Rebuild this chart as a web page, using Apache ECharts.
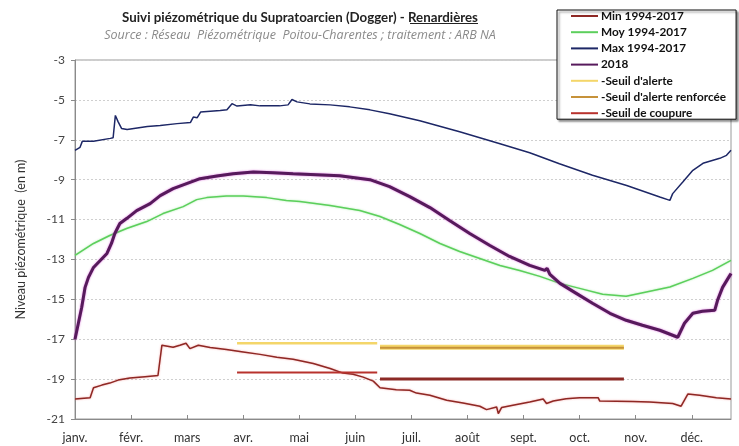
<!DOCTYPE html>
<html>
<head>
<meta charset="utf-8">
<script src="https://cdn.jsdelivr.net/npm/echarts@6/dist/echarts.min.js"></script>
<style>
html,body{margin:0;padding:0;background:#fff}
#main{width:739px;height:446px}
</style>
</head>
<body>
<div id="main"></div>
<script>
// abscisse = mois écoulés depuis le 1er janvier (0 = janv., 11 = déc.)
var months = ['janv.','févr.','mars','avr.','mai','juin','juil.','août','sept.','oct.','nov.','déc.'];

// Min 1994-2017
var minData = [[0,-20.0],[0.27,-19.93],[0.33,-19.43],[0.48,-19.3],[0.62,-19.2],[0.77,-19.05],[0.98,-18.95],
  [1.25,-18.88],[1.48,-18.82],[1.55,-17.3],[1.75,-17.4],[1.87,-17.3],[1.98,-17.2],[2.05,-17.47],[2.2,-17.3],
  [2.41,-17.42],[2.7,-17.52],[3.0,-17.64],[3.3,-17.76],[3.6,-17.9],[3.89,-18.0],[4.25,-18.22],[4.55,-18.47],
  [4.78,-18.7],[4.96,-18.76],[5.14,-18.9],[5.32,-19.1],[5.44,-19.43],[5.73,-19.53],[5.97,-19.56],[6.09,-19.7],
  [6.33,-19.81],[6.63,-20.06],[6.92,-20.2],[7.22,-20.36],[7.34,-20.53],[7.52,-20.4],[7.55,-20.73],[7.61,-20.42],
  [7.81,-20.31],[8.11,-20.15],[8.35,-20.0],[8.41,-20.22],[8.53,-20.1],[8.76,-19.98],[9.0,-19.93],[9.33,-19.93],
  [9.36,-20.1],[9.95,-20.12],[10.25,-20.15],[10.66,-20.22],[10.81,-20.36],[10.93,-19.75],[11.14,-19.81],
  [11.44,-19.93],[11.7,-20.0]];

// Moy 1994-2017
var moyData = [[0,-12.8],[0.33,-12.2],[0.62,-11.8],[0.92,-11.45],[1.28,-11.1],[1.57,-10.7],[1.93,-10.35],
  [2.17,-10.0],[2.35,-9.9],[2.7,-9.82],[3.0,-9.82],[3.42,-9.9],[3.77,-10.05],[4.01,-10.1],[4.55,-10.3],
  [5.08,-10.55],[5.44,-10.85],[5.79,-11.25],[6.15,-11.7],[6.51,-12.2],[6.86,-12.6],[7.22,-12.95],[7.58,-13.3],
  [7.93,-13.55],[8.29,-13.85],[8.65,-14.2],[9.0,-14.45],[9.41,-14.75],[9.83,-14.85],[10.19,-14.63],
  [10.61,-14.38],[11.02,-13.95],[11.37,-13.55],[11.7,-13.05]];

// Max 1994-2017
var maxData = [[0,-7.53],[0.09,-7.38],[0.13,-7.08],[0.33,-7.07],[0.63,-6.93],[0.68,-6.9],[0.72,-5.78],
  [0.77,-6.1],[0.83,-6.43],[0.93,-6.49],[1.29,-6.33],[1.52,-6.28],[1.82,-6.19],[2.06,-6.13],[2.11,-5.86],
  [2.18,-5.89],[2.24,-5.61],[2.59,-5.53],[2.71,-5.49],[2.8,-5.19],[2.89,-5.31],[3.13,-5.24],[3.3,-5.3],
  [3.65,-5.3],[3.8,-5.25],[3.87,-4.98],[3.96,-5.1],[4.19,-5.2],[4.55,-5.25],[4.9,-5.35],[5.26,-5.5],
  [5.61,-5.7],[6.15,-6.05],[6.86,-6.6],[7.58,-7.2],[8.11,-7.65],[8.64,-8.2],[9.23,-8.78],[9.84,-9.29],
  [10.43,-9.87],[10.61,-10.04],[10.66,-9.7],[10.84,-9.12],[11.02,-8.53],[11.2,-8.18],[11.5,-7.93],
  [11.62,-7.78],[11.7,-7.53]];

// 2018
var data2018 = [[0,-17.0],[0.06,-16.2],[0.12,-15.4],[0.18,-14.4],[0.24,-13.9],[0.33,-13.4],[0.45,-13.05],
  [0.57,-12.7],[0.65,-12.2],[0.71,-11.7],[0.8,-11.2],[0.92,-10.95],[1.1,-10.55],[1.34,-10.2],[1.52,-9.8],
  [1.75,-9.45],[1.99,-9.2],[2.23,-8.95],[2.53,-8.82],[2.82,-8.7],[3.18,-8.62],[3.53,-8.65],[3.89,-8.7],
  [4.72,-8.8],[5.26,-9.0],[5.61,-9.35],[5.97,-9.85],[6.33,-10.4],[6.68,-11.05],[7.04,-11.7],[7.4,-12.3],
  [7.75,-12.85],[8.11,-13.3],[8.38,-13.55],[8.42,-13.45],[8.47,-13.75],[8.65,-14.2],[8.94,-14.7],
  [9.23,-15.2],[9.54,-15.7],[9.83,-16.05],[10.12,-16.3],[10.43,-16.55],[10.75,-16.9],[10.87,-16.2],
  [11.02,-15.7],[11.19,-15.6],[11.41,-15.55],[11.46,-15.05],[11.55,-14.4],[11.68,-13.8],[11.7,-13.7]];

// seuils (deux périodes)
var alerte1 = [[2.89,-17.2],[5.39,-17.2]];
var alerte2 = [[5.44,-17.4],[9.79,-17.4]];
var renforcee = [[5.44,-17.43],[9.79,-17.43]];
var coupure1 = [[2.89,-18.67],[5.39,-18.67]];
var coupure2 = [[5.44,-19.0],[9.79,-19.0]];

var font = 'Lato, "Noto Sans", sans-serif';

function line(name, data, color, width, glow) {
    var s = {
        name: name,
        type: 'line',
        data: data,
        symbol: 'none',
        animation: false,
        lineStyle: { color: color, width: width },
        itemStyle: { color: color }
    };
    if (glow) {
        s.lineStyle.shadowColor = glow;
        s.lineStyle.shadowBlur = 2;
    }
    return s;
}

var myChart = echarts.init(document.getElementById('main'));
var option = {
    backgroundColor: '#fff',
    textStyle: { fontFamily: font },
    title: {
        text: 'Suivi piézométrique du Supratoarcien (Dogger) - Renardières',
        subtext: 'Source : Réseau  Piézométrique  Poitou-Charentes ; traitement : ARB NA',
        left: 295,
        textAlign: 'center',
        top: 6,
        itemGap: 5,
        textStyle: { fontFamily: font, fontSize: 13.3, fontWeight: 'bold', color: '#222' },
        subtextStyle: { fontFamily: '"Open Sans", sans-serif', fontSize: 12.5, fontStyle: 'italic', color: '#8a8a8a' }
    },
    legend: {
        orient: 'vertical',
        left: 557,
        top: 10,
        padding: [0, 10, 0, 13],
        itemWidth: 27,
        itemHeight: 12,
        itemGap: 4.2,
        itemStyle: { opacity: 0 },
        backgroundColor: '#fff',
        borderColor: '#111',
        borderWidth: 1,
        borderRadius: 0,
        shadowColor: 'rgba(0,0,0,0.45)',
        shadowBlur: 2,
        shadowOffsetX: 2,
        shadowOffsetY: 2,
        textStyle: { fontFamily: font, fontSize: 11.8, fontWeight: 'bold', color: '#111', padding: [0, 0, 0, -2] },
        data: ['Min 1994-2017', 'Moy 1994-2017', 'Max 1994-2017', '2018',
               "-Seuil d'alerte", "-Seuil d'alerte renforcée", '-Seuil de coupure']
    },
    grid: {
        left: 75,
        right: 8,
        top: 60,
        bottom: 27,
        show: true,
        borderColor: '#9a9a9a',
        borderWidth: 1
    },
    xAxis: {
        type: 'value',
        min: 0,
        max: 11.7,
        interval: 1,
        axisLine: { lineStyle: { color: '#8a8a8a' } },
        axisTick: { inside: true, length: 4, lineStyle: { color: '#8a8a8a' } },
        splitLine: { show: false },
        axisLabel: {
            margin: 12,
            fontSize: 12.5,
            color: '#333',
            showMaxLabel: false,
            formatter: function (v) {
                return Number.isInteger(v) ? months[v] : '';
            }
        }
    },
    yAxis: {
        type: 'value',
        min: -21,
        max: -3,
        interval: 2,
        name: 'Niveau piézométrique  (en m)',
        nameLocation: 'middle',
        nameGap: 48,
        nameTextStyle: { fontFamily: font, fontSize: 12.5, color: '#333' },
        axisLine: { show: true, lineStyle: { color: '#8a8a8a' } },
        axisTick: { show: true, length: 4, lineStyle: { color: '#8a8a8a' } },
        axisLabel: { margin: 10, fontSize: 12, color: '#444' },
        splitLine: { lineStyle: { color: '#cfcfcf', type: [2, 2] } }
    },
    graphic: [{
        type: 'rect',
        shape: { x: 410, y: 23, width: 68, height: 1 },
        style: { fill: '#222' }
    }],
    series: [
        line('Min 1994-2017', minData, '#8e2824', 1.5, 'rgba(240,130,130,0.7)'),
        line('Moy 1994-2017', moyData, '#5ccf5c', 1.5, 'rgba(150,230,150,0.8)'),
        line('Max 1994-2017', maxData, '#1d2766', 1.5, null),
        line('2018', data2018, '#571a5c', 3, 'rgba(210,70,210,0.8)'),
        line("-Seuil d'alerte", alerte1, '#f4d66a', 2.5, null),
        line("-Seuil d'alerte", alerte2, '#f4d66a', 5, null),
        line("-Seuil d'alerte renforcée", renforcee, '#c6923a', 2, null),
        line('-Seuil de coupure', coupure1, '#b8322d', 2, null),
        line('-Seuil de coupure', coupure2, '#8c2a26', 3, null)
    ]
};
myChart.setOption(option);
</script>
</body>
</html>
